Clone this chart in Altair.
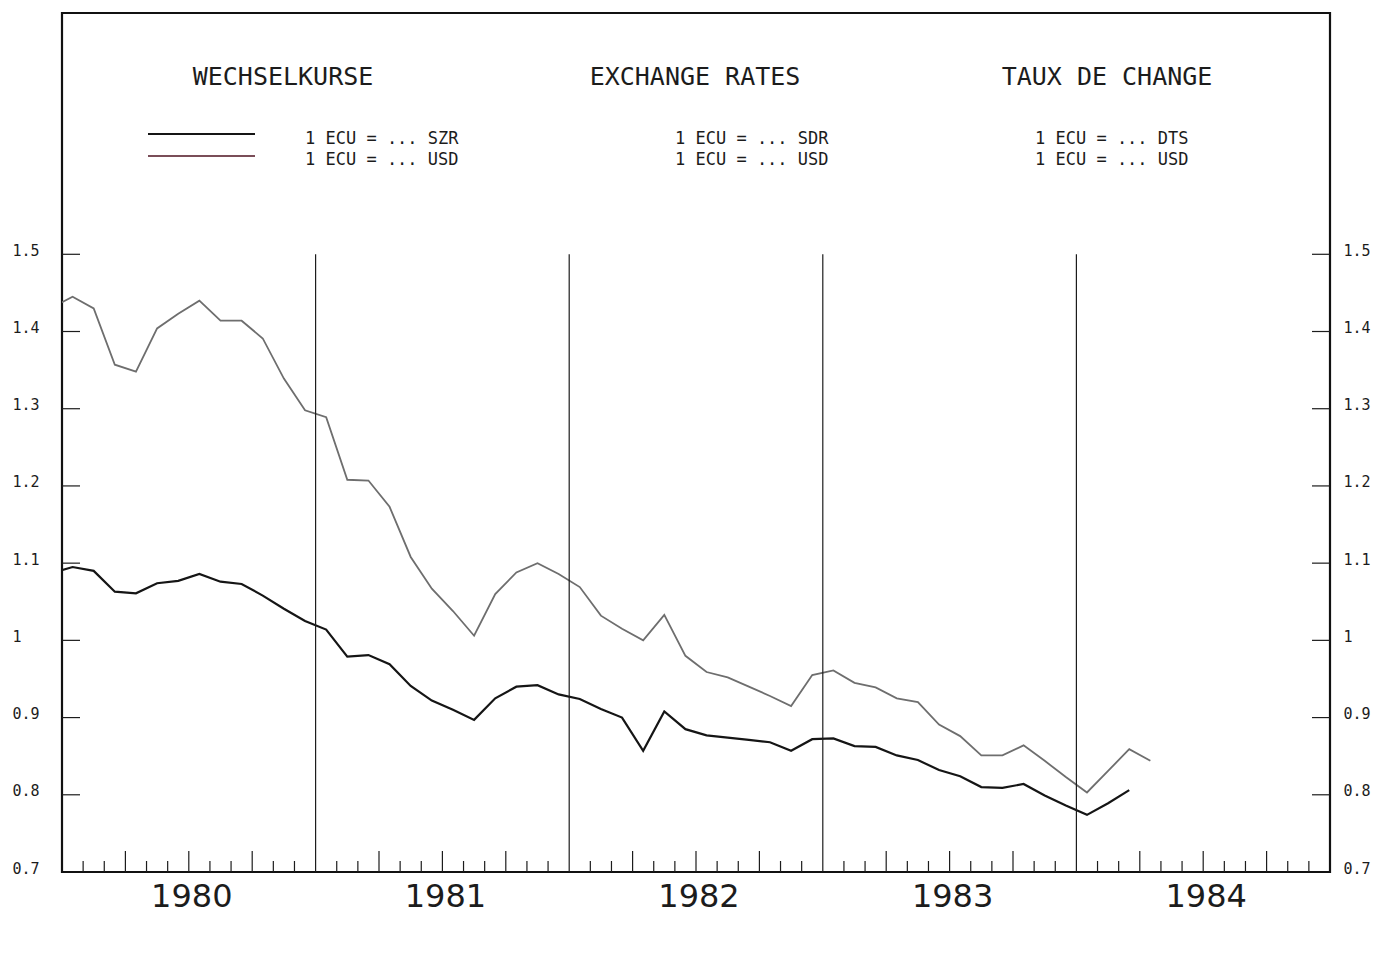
import altair as alt
import pandas as pd

# Monthly ECU exchange rates, Dec 1979 .. Apr 1984
usd = [1.431,
       1.445, 1.430, 1.357, 1.348, 1.404, 1.423, 1.440, 1.414, 1.414, 1.391, 1.339, 1.298,
       1.289, 1.208, 1.207, 1.173, 1.108, 1.067, 1.038, 1.006, 1.060, 1.088, 1.100, 1.086,
       1.069, 1.032, 1.015, 1.000, 1.033, 0.980, 0.959, 0.952, 0.940, 0.928, 0.915, 0.955,
       0.961, 0.945, 0.939, 0.925, 0.920, 0.891, 0.876, 0.851, 0.851, 0.864, 0.844, 0.823,
       0.803, 0.831, 0.859, 0.844]
sdr = [1.087,
       1.095, 1.090, 1.063, 1.061, 1.074, 1.077, 1.086, 1.076, 1.073, 1.058, 1.041, 1.025,
       1.014, 0.979, 0.981, 0.969, 0.941, 0.922, 0.910, 0.897, 0.925, 0.940, 0.942, 0.930,
       0.924, 0.911, 0.900, 0.857, 0.908, 0.885, 0.877, 0.874, 0.871, 0.868, 0.857, 0.872,
       0.873, 0.863, 0.862, 0.851, 0.845, 0.832, 0.824, 0.810, 0.809, 0.814, 0.799, 0.786,
       0.774, 0.789, 0.806]

years = [1980, 1981, 1982, 1983, 1984]
y_ticks = [0.8, 0.9, 1.0, 1.1, 1.2, 1.3, 1.4, 1.5]
y_labels = [0.7, 0.8, 0.9, 1.0, 1.1, 1.2, 1.3, 1.4, 1.5]
titles = ["WECHSELKURSE", "EXCHANGE RATES", "TAUX DE CHANGE"]
legend_rows = [["1 ECU = ... SZR", "1 ECU = ... USD"],
               ["1 ECU = ... SDR", "1 ECU = ... USD"],
               ["1 ECU = ... DTS", "1 ECU = ... USD"]]

W, H = 1268, 859
FONT = "DejaVu Sans Mono"
INK = "#1c1c1c"

# month index: 0 = start of Jan 1980; points at mid-month
def month_mid(n, first=-1):
    return [first + k + 0.5 for k in range(n)]

df_usd = pd.DataFrame({"m": month_mid(len(usd)), "v": usd})
df_sdr = pd.DataFrame({"m": month_mid(len(sdr)), "v": sdr})

n_months = 12 * len(years)
xs = alt.Scale(domain=[0, n_months], nice=False, zero=False)
ys = alt.Scale(domain=[0.7, 1.8125], nice=False, zero=False)

def yaxis(orient, pad):
    return alt.Axis(orient=orient, values=y_labels, format="~g", ticks=False, tickSize=0,
                    domain=False, grid=False, title=None, labelAlign="left",
                    labelPadding=pad, labelFont=FONT, labelFontSize=15, labelColor=INK,
                    labelBaseline="alphabetic", labelOffset=1)

line_usd = alt.Chart(df_usd).mark_line(clip=True, color="#6e6e6e", strokeWidth=1.8).encode(
    x=alt.X("m:Q", scale=xs, axis=None),
    y=alt.Y("v:Q", scale=ys, axis=yaxis("left", 50)),
)

line_sdr = alt.Chart(df_sdr).mark_line(clip=True, color="#151515", strokeWidth=2.2).encode(
    x=alt.X("m:Q", scale=xs, axis=None),
    y=alt.Y("v:Q", scale=ys, axis=yaxis("right", 13)),
)

# year labels centred on each year
df_years = pd.DataFrame({"m": [12 * i + 6 for i in range(len(years))],
                         "year": [str(y) for y in years]})
year_text = alt.Chart(df_years).mark_text(
    font="DejaVu Sans", fontSize=32, color=INK, align="center", baseline="alphabetic", dx=3).encode(
    x=alt.X("m:Q", scale=xs, axis=None), y=alt.value(H + 35), text="year:N")

# year separator lines
df_year = pd.DataFrame({"m": [12 * i for i in range(1, len(years))],
                        "top": [y_ticks[-1]] * (len(years) - 1),
                        "bot": [y_labels[0]] * (len(years) - 1)})
year_lines = alt.Chart(df_year).mark_rule(color=INK, strokeWidth=1.2).encode(
    x=alt.X("m:Q", scale=xs, axis=None),
    y=alt.Y("top:Q", scale=ys, axis=None), y2="bot:Q")

# inward month ticks: tall at quarters, short otherwise
short_m = [k for k in range(1, n_months) if k % 3 != 0]
tall_m = [k for k in range(1, n_months) if k % 3 == 0 and k % 12 != 0]
short_ticks = alt.Chart(pd.DataFrame({"m": short_m})).mark_rule(color=INK, strokeWidth=1.2).encode(
    x=alt.X("m:Q", scale=xs, axis=None), y=alt.value(H), y2=alt.value(H - 11))
tall_ticks = alt.Chart(pd.DataFrame({"m": tall_m})).mark_rule(color=INK, strokeWidth=1.2).encode(
    x=alt.X("m:Q", scale=xs, axis=None), y=alt.value(H), y2=alt.value(H - 21))

# inward value ticks on both sides
df_yt = pd.DataFrame({"v": y_ticks})
left_ticks = alt.Chart(df_yt).mark_rule(color=INK, strokeWidth=1.2).encode(
    y=alt.Y("v:Q", scale=ys, axis=None), x=alt.value(0), x2=alt.value(18))
right_ticks = alt.Chart(df_yt).mark_rule(color=INK, strokeWidth=1.2).encode(
    y=alt.Y("v:Q", scale=ys, axis=None), x=alt.value(W - 18), x2=alt.value(W))

# titles and legend text
title_x = [221, 633, 1045]
legend_x = [243, 613, 973]
text_layers = []
for t, tx in zip(titles, title_x):
    text_layers.append(alt.Chart(pd.DataFrame({"t": [t]})).mark_text(
        font=FONT, fontSize=25, color=INK, align="center", baseline="alphabetic").encode(
        x=alt.value(tx), y=alt.value(72), text="t:N"))
for rows, lx in zip(legend_rows, legend_x):
    for r, ly in zip(rows, [131, 152]):
        text_layers.append(alt.Chart(pd.DataFrame({"t": [r]})).mark_text(
            font=FONT, fontSize=17, color=INK, align="left", baseline="alphabetic").encode(
            x=alt.value(lx), y=alt.value(ly), text="t:N"))

swatch_sdr = alt.Chart(pd.DataFrame({"s": ["SDR"]})).mark_rule(color="#151515", strokeWidth=2.2).encode(
    x=alt.value(86), x2=alt.value(193), y=alt.value(121))
swatch_usd = alt.Chart(pd.DataFrame({"s": ["USD"]})).mark_rule(color="#7a4d58", strokeWidth=1.8).encode(
    x=alt.value(86), x2=alt.value(193), y=alt.value(143))

chart = alt.layer(
    line_usd, line_sdr, year_lines, short_ticks, tall_ticks, left_ticks, right_ticks,
    year_text, swatch_sdr, swatch_usd, *text_layers
).resolve_axis(y="independent").properties(
    width=W, height=H,
    autosize=alt.AutoSizeParams(type="none"),
    padding={"left": 54, "top": 5, "right": 44, "bottom": 79},
    background="white",
).configure_view(stroke="#111111", strokeWidth=2.2)

chart.save("out.html", embed_options={"renderer": "svg", "actions": False})
